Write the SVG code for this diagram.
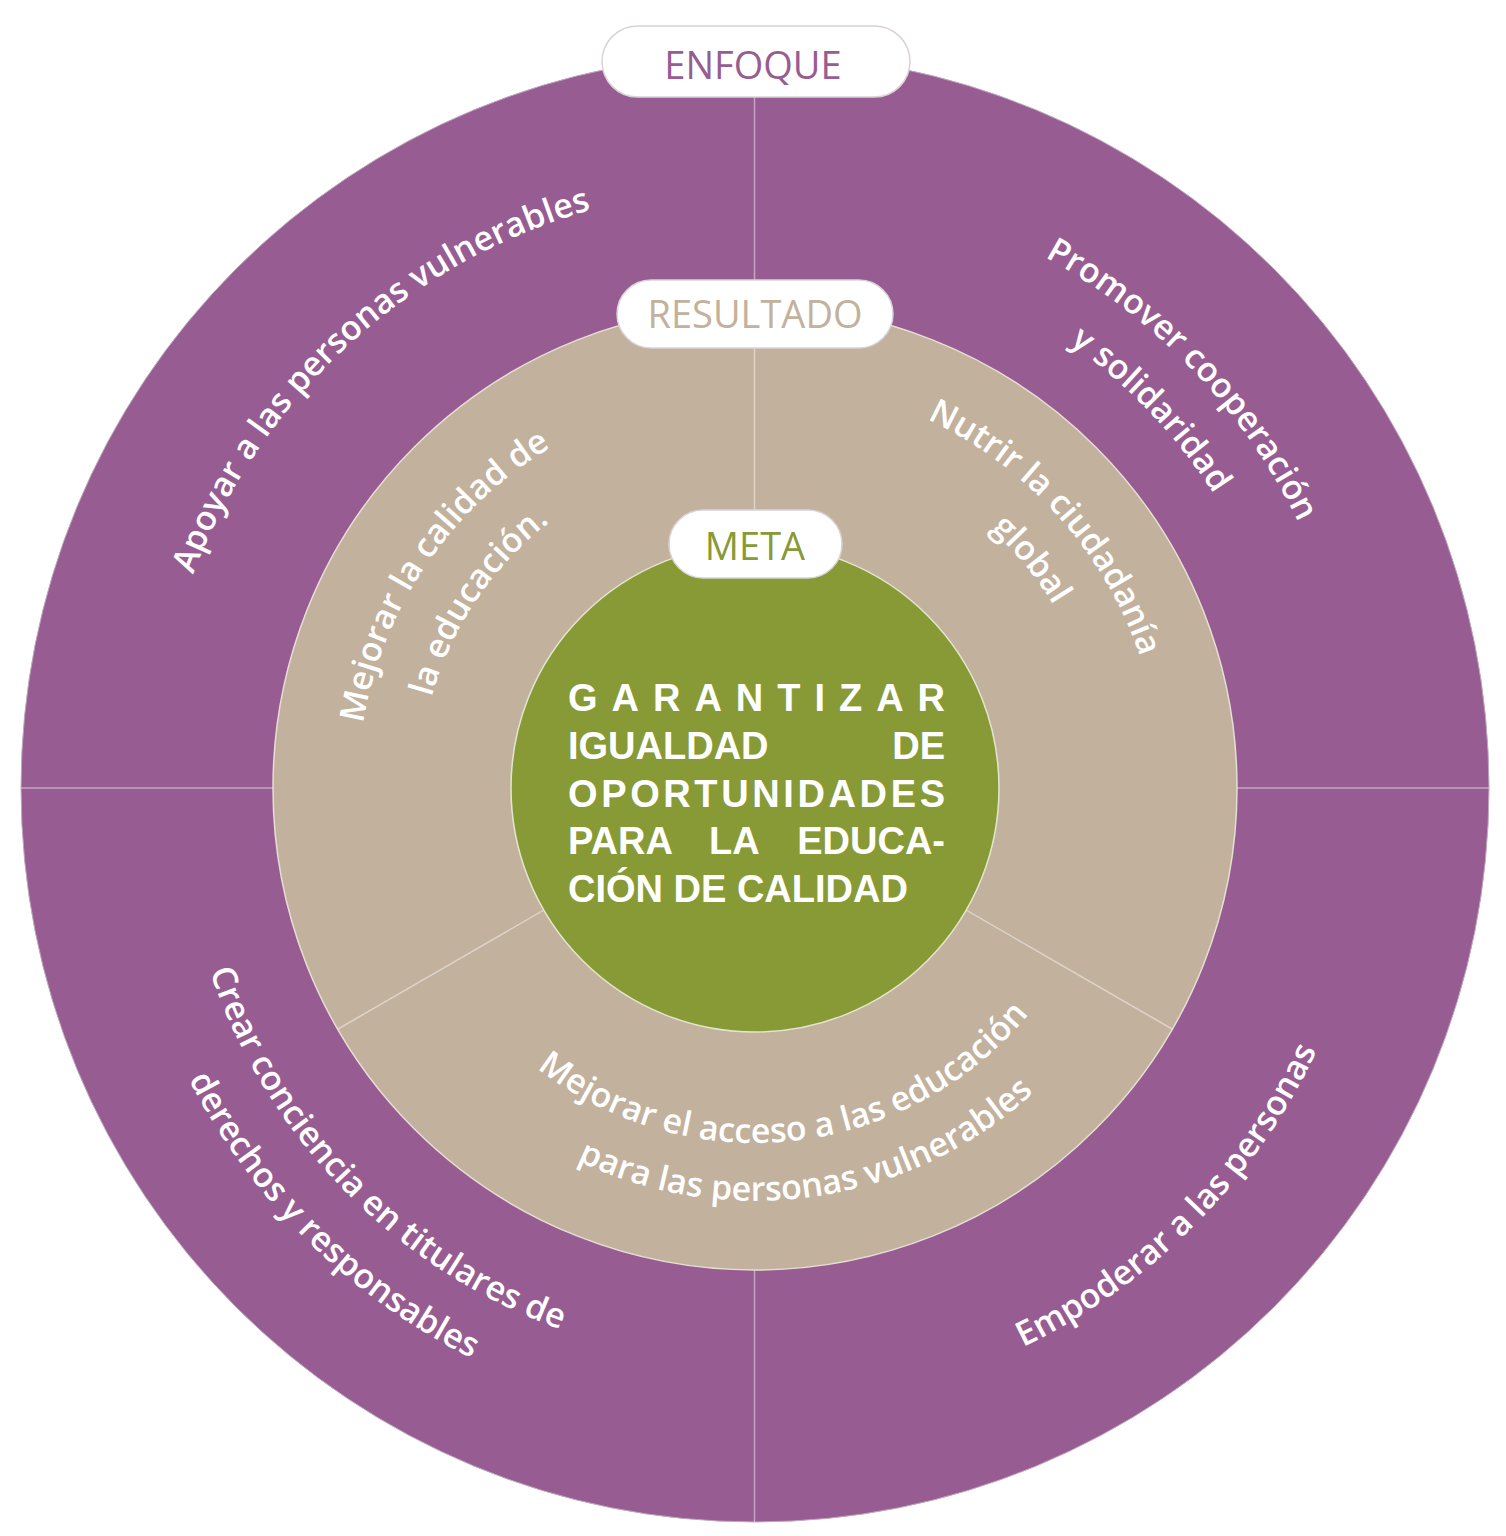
<svg xmlns="http://www.w3.org/2000/svg" width="1506" height="1536" viewBox="0 0 1506 1536">
<style>
.arc{font-family:"Open Sans","Liberation Sans",sans-serif;font-weight:600;font-size:34px;fill:#ffffff}
.pill{fill:#ffffff;stroke:#d9d2d8;stroke-width:1.5}
.plabel{font-family:"Open Sans","Liberation Sans",sans-serif;font-size:38px;text-anchor:middle}
.ctr{font-family:"Liberation Sans",Arial,sans-serif;font-weight:700;font-size:38px;fill:#ffffff}
.sep{stroke:#ffffff;stroke-opacity:0.45;stroke-width:1.5;fill:none}
</style>
<defs>
<path id="t601" d="M163.1,683.7 A601,601 0 0 1 1346.9,683.7"/>
<path id="t605" d="M159.2,683.0 A605,605 0 0 1 1350.8,683.0"/>
<path id="t545" d="M218.3,693.4 A545,545 0 0 1 1291.7,693.4"/>
<path id="t397" d="M364.0,719.1 A397,397 0 0 1 1146.0,719.1"/>
<path id="t336" d="M424.1,729.7 A336,336 0 0 1 1085.9,729.7"/>
<path id="t407" d="M354.2,717.3 A407,407 0 0 1 1155.8,717.3"/>
<path id="t350" d="M410.3,727.2 A350,350 0 0 1 1099.7,727.2"/>
<path id="b355" d="M405.4,849.6 A355,355 0 0 0 1104.6,849.6"/>
<path id="b413" d="M348.3,859.7 A413,413 0 0 0 1161.7,859.7"/>
<path id="b575" d="M188.7,887.8 A575,575 0 0 0 1321.3,887.8"/>
<path id="b637" d="M127.7,898.6 A637,637 0 0 0 1382.3,898.6"/>
<path id="b620" d="M144.4,895.6 A620,620 0 0 0 1365.6,895.6"/>
</defs>

<g id="ring-enfoque">
<circle cx="755" cy="788" r="734" fill="#975c92" stroke="#bfa9bd" stroke-width="1"/>
</g>
<g id="connectors-outer">
<line class="sep" x1="754.5" y1="54" x2="754.5" y2="1522"/>
<line class="sep" x1="21" y1="788" x2="1489" y2="788"/>
</g>
<g id="ring-resultado">
<circle cx="755" cy="788" r="482" fill="#c2b19d" stroke="#e6ded4" stroke-width="1.5"/>
</g>
<g id="connectors-inner">
<line class="sep" x1="754.5" y1="306" x2="754.5" y2="788"/>
<line class="sep" x1="755" y1="788" x2="338" y2="1029"/>
<line class="sep" x1="755" y1="788" x2="1172" y2="1029"/>
</g>
<g id="meta">
<circle cx="755" cy="788" r="244" fill="#889a35" stroke="#e3e6cf" stroke-width="1.5"/>
</g>

<g id="enfoque-apoyar"><g transform="rotate(-42.5 755 788)"><text class="arc"><textPath href="#t601" startOffset="50%" text-anchor="middle">Apoyar a las personas vulnerables</textPath></text></g></g>
<g id="enfoque-promover"><g transform="rotate(46.3 755 788)"><text class="arc"><textPath href="#t605" startOffset="50%" text-anchor="middle">Promover cooperación</textPath></text></g>
<g transform="rotate(46.3 755 788)"><text class="arc"><textPath href="#t545" startOffset="50%" text-anchor="middle">y solidaridad</textPath></text></g></g>
<g id="enfoque-crear"><g transform="rotate(45.6 755 788)"><text class="arc"><textPath href="#b575" startOffset="50%" text-anchor="middle">Crear conciencia en titulares de</textPath></text></g>
<g transform="rotate(44.6 755 788)"><text class="arc"><textPath href="#b637" startOffset="50%" text-anchor="middle">derechos y responsables</textPath></text></g></g>
<g id="enfoque-empoderar"><g transform="rotate(-45.3 755 788)"><text class="arc"><textPath href="#b620" startOffset="50%" text-anchor="middle">Empoderar a las personas</textPath></text></g></g>

<g id="resultado-calidad"><g transform="rotate(-55.8 755 788)"><text class="arc"><textPath href="#t397" startOffset="50%" text-anchor="middle">Mejorar la calidad de</textPath></text></g>
<g transform="rotate(-56 755 788)"><text class="arc"><textPath href="#t336" startOffset="50%" text-anchor="middle">la educación.</textPath></text></g></g>
<g id="resultado-ciudadania"><g transform="rotate(48.1 755 788)"><text class="arc"><textPath href="#t407" startOffset="50%" text-anchor="middle">Nutrir la ciudadanía</textPath></text></g>
<g transform="rotate(50.4 755 788)"><text class="arc"><textPath href="#t350" startOffset="50%" text-anchor="middle">global</textPath></text></g></g>
<g id="resultado-acceso"><g transform="rotate(-6.3 755 788)"><text class="arc"><textPath href="#b355" startOffset="50%" text-anchor="middle">Mejorar el acceso a las educación</textPath></text></g>
<g transform="rotate(-8.5 755 788)"><text class="arc"><textPath href="#b413" startOffset="50%" text-anchor="middle">para las personas vulnerables</textPath></text></g></g>

<g id="meta-text">
<text class="ctr" x="568" y="711" textLength="377" lengthAdjust="spacing">GARANTIZAR</text>
<text class="ctr" x="568" y="759">IGUALDAD</text>
<text class="ctr" x="945" y="759" text-anchor="end">DE</text>
<text class="ctr" x="568" y="807" textLength="377" lengthAdjust="spacing">OPORTUNIDADES</text>
<text class="ctr" x="568" y="854">PARA</text>
<text class="ctr" x="709" y="854">LA</text>
<text class="ctr" x="945" y="854" text-anchor="end">EDUCA-</text>
<text class="ctr" x="568" y="902">CIÓN DE CALIDAD</text>
</g>

<g id="label-enfoque">
<rect class="pill" x="602" y="26" width="308" height="71" rx="35.5"/>
<text class="plabel" x="753" y="79" fill="#975c92" font-size="39">ENFOQUE</text>
</g>
<g id="label-resultado">
<rect class="pill" x="617" y="280" width="276" height="68" rx="34"/>
<text class="plabel" x="755" y="328" fill="#c2b19d">RESULTADO</text>
</g>
<g id="label-meta">
<rect class="pill" x="669" y="510" width="173" height="68" rx="34"/>
<text class="plabel" x="755" y="560" fill="#889a35">META</text>
</g>
</svg>
